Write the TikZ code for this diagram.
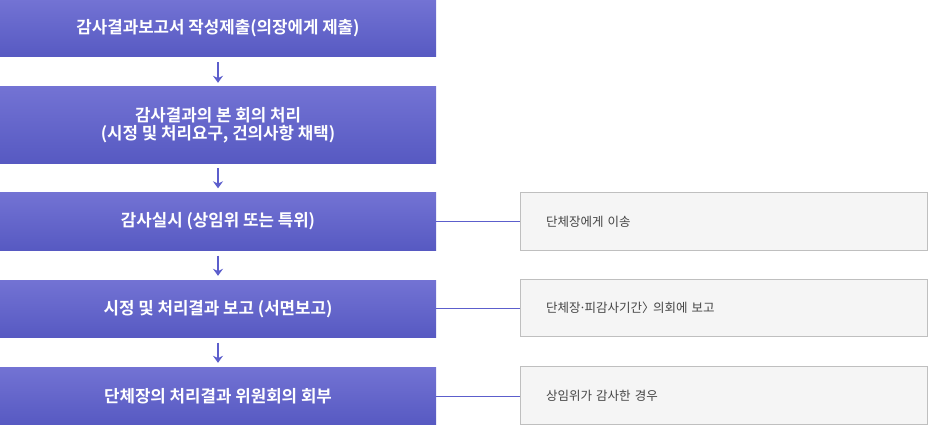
\documentclass[tikz,border=0pt]{standalone}
\usepackage{fontspec}
\setmainfont{Noto Sans CJK KR}[BoldFont={* Bold}]
\usepackage{tikz}
\usetikzlibrary{arrows.meta}
\usetikzlibrary{positioning}
\definecolor{stepTop}{rgb}{0.45,0.45,0.83}
\definecolor{stepBot}{rgb}{0.34,0.35,0.76}
\definecolor{lineColor}{rgb}{0.36,0.37,0.80}
\definecolor{noteFill}{rgb}{0.96,0.96,0.96}
\definecolor{noteBorder}{rgb}{0.75,0.75,0.75}
\definecolor{noteText}{rgb}{0.27,0.27,0.27}
\tikzset{
  mystep/.style={top color=stepTop, bottom color=stepBot, inner sep=0pt, minimum width=436pt,
    text=white, font=\fontsize{16.8pt}{18.5pt}\selectfont\bfseries, align=center},
  mynote/.style={fill=noteFill, draw=noteBorder, line width=1pt, inner xsep=26pt, inner ysep=0pt,
    text width=355pt, align=left, text=noteText, font=\fontsize{12.5pt}{15pt}\selectfont},
  myarrow/.style={color=lineColor, line width=2pt, -{Stealth[length=7pt,width=10pt]}, shorten <=5pt, shorten >=4pt},
  mylink/.style={color=lineColor, line width=1pt}
}
\begin{document}
\begin{tikzpicture}[x=1pt,y=-1pt]
\useasboundingbox (0,0) rectangle (928,425);
% left column
\node[mystep, minimum height=57pt] (s1) at (218,28.5) {감사결과보고서 작성제출(의장에게 제출)};
\node[mystep, minimum height=76pt] (s2) at (218,125) {감사결과의 본 회의 처리\\(시정 및 처리요구, 건의사항 채택)};
\node[mystep, minimum height=58pt] (s3) at (218,221.5) {감사실시 (상임위 또는 특위)};
\node[mystep, minimum height=57.5pt] (s4) at (218,308.75) {시정 및 처리결과 보고 (서면보고)};
\node[mystep, minimum height=58pt] (s5) at (218,396) {단체장의 처리결과 위원회의 회부};

% right column
\node[mynote, minimum height=58pt] (n1) at (723.5,221.5) {단체장에게 이송};
\node[mynote, minimum height=57.5pt] (n2) at (723.5,307.75) {단체장\kern-0.12em·\kern-0.12em피감사기간〉\kern-0.45em\ 의회에 보고};
\node[mynote, minimum height=58pt] (n3) at (723.5,395.5) {상임위가 감사한 경우};

\foreach \a/\b in {s1/s2, s2/s3, s3/s4, s4/s5}
  \draw[myarrow] (\a.south) -- (\b.north);

\draw[mylink] (s3.east) -- (n1.west);
\draw[mylink] (s4.east) -- (s4.east -| n2.west);
\draw[mylink] (s5.east) -- (s5.east -| n3.west);
\end{tikzpicture}
\end{document}
